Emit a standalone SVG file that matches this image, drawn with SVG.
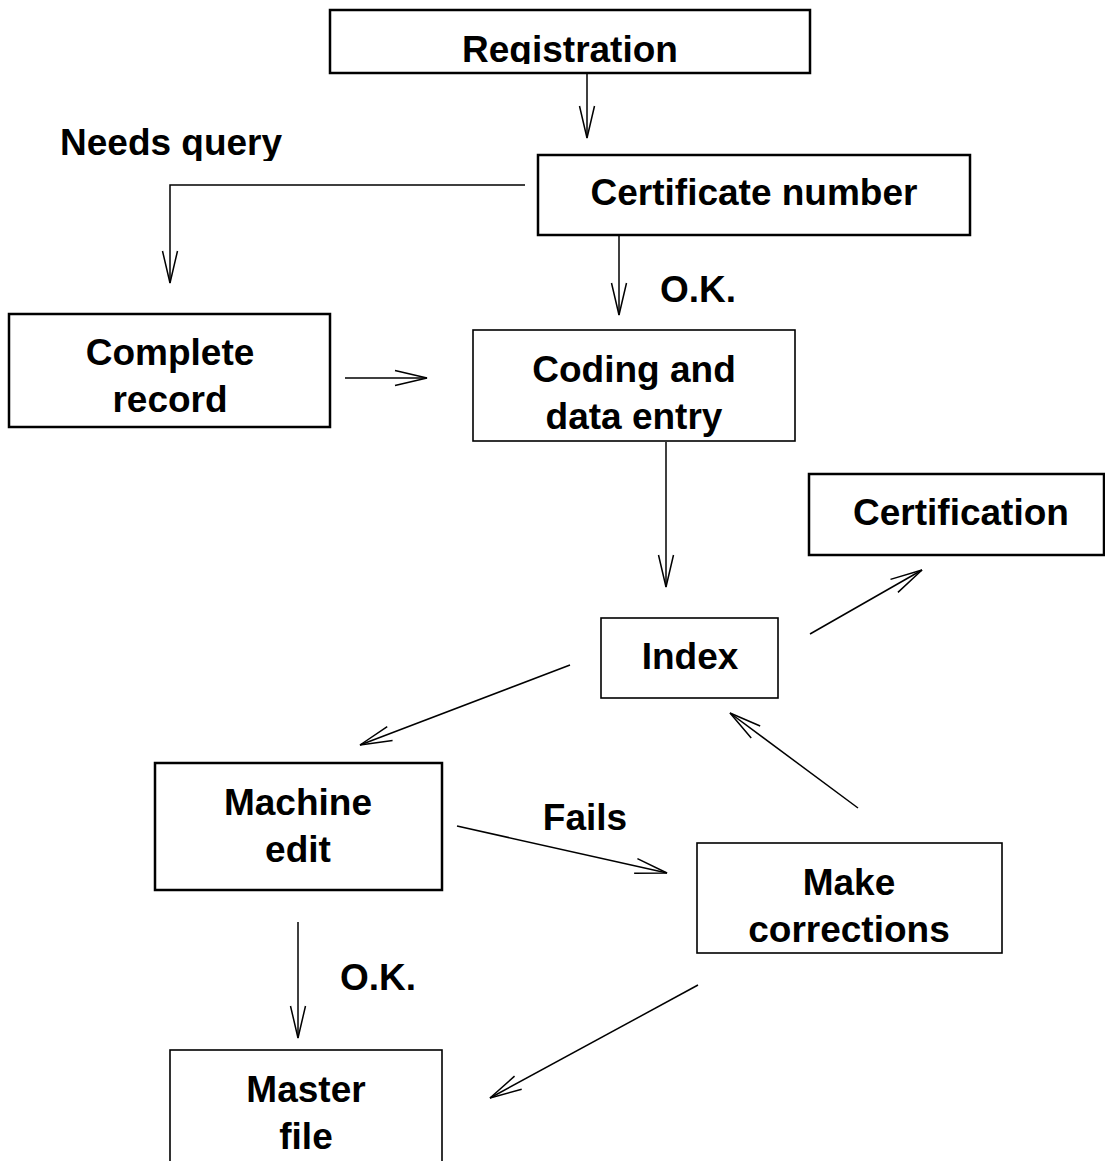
<svg xmlns="http://www.w3.org/2000/svg" width="1105" height="1161" viewBox="0 0 1105 1161">
<style>
.box{fill:#fff;stroke:#000;stroke-width:2.5}
.thin{stroke-width:1.6}
.t{font-family:"Liberation Sans",Arial,sans-serif;font-weight:bold;font-size:37px;fill:#000}
.c{text-anchor:middle}
.conn path{fill:none;stroke:#000;stroke-width:1.5;marker-end:url(#ah)}
</style>
<defs>
<marker id="ah" markerUnits="userSpaceOnUse" viewBox="-34 -9 36 18" refX="0" refY="0" markerWidth="36" markerHeight="18" orient="auto">
<path d="M-32,-7.5 L0,0 L-32,7.5" fill="none" stroke="#000" stroke-width="1.5"/>
</marker>
<clipPath id="clipReg"><rect x="330" y="10" width="480" height="54"/></clipPath>
<clipPath id="clipNeeds"><rect x="0" y="100" width="400" height="61"/></clipPath>
<clipPath id="clipCoding"><rect x="473" y="330" width="322" height="107"/></clipPath>
</defs>
<g id="registration">
<rect class="box" x="330" y="10" width="480" height="63"/>
<text class="t c" x="570" y="62" clip-path="url(#clipReg)">Registration</text>
</g>
<g id="certificate-number">
<rect class="box" x="538" y="155" width="432" height="80"/>
<text class="t c" x="754" y="205">Certificate number</text>
</g>
<g id="complete-record">
<rect class="box" x="9" y="314" width="321" height="113"/>
<text class="t c" x="170" y="365">Complete</text>
<text class="t c" x="170" y="412">record</text>
</g>
<g id="coding">
<rect class="box thin" x="473" y="330" width="322" height="111"/>
<g clip-path="url(#clipCoding)">
<text class="t c" x="634" y="382">Coding and</text>
<text class="t c" x="634" y="429">data entry</text>
</g>
</g>
<g id="certification">
<rect class="box" x="809" y="474" width="295" height="81"/>
<text class="t c" x="961" y="525">Certification</text>
</g>
<g id="index">
<rect class="box thin" x="601" y="618" width="177" height="80"/>
<text class="t c" x="690" y="669">Index</text>
</g>
<g id="machine-edit">
<rect class="box" x="155" y="763" width="287" height="127"/>
<text class="t c" x="298" y="815">Machine</text>
<text class="t c" x="298" y="862">edit</text>
</g>
<g id="make-corrections">
<rect class="box thin" x="697" y="843" width="305" height="110"/>
<text class="t c" x="849" y="895">Make</text>
<text class="t c" x="849" y="942">corrections</text>
</g>
<g id="master-file">
<rect class="box thin" x="170" y="1050" width="272" height="130"/>
<text class="t c" x="306" y="1102">Master</text>
<text class="t c" x="306" y="1149">file</text>
</g>
<g id="labels">
<text class="t" x="60" y="155" clip-path="url(#clipNeeds)">Needs query</text>
<text class="t" x="660" y="302">O.K.</text>
<text class="t c" x="585" y="830">Fails</text>
<text class="t" x="340" y="990">O.K.</text>
</g>
<g id="connectors" class="conn">
<path d="M587,73 L587,138"/>
<path d="M525,185 H170 V283"/>
<path d="M619,235 V315"/>
<path d="M345,378 H427"/>
<path d="M666,442 V587"/>
<path d="M810,634 L922,570"/>
<path d="M570,665 L360,745"/>
<path d="M457,826 L667,873"/>
<path d="M858,808 L730,713"/>
<path d="M298,922 V1038"/>
<path d="M698,985 L490,1098"/>
</g>
</svg>
